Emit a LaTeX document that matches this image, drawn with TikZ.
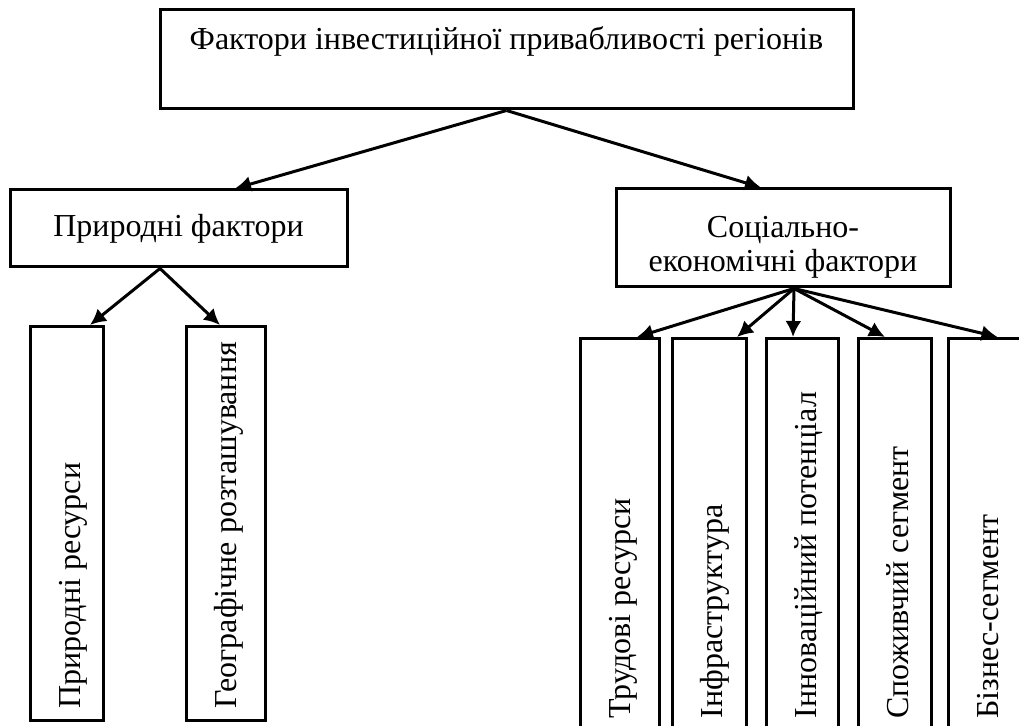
\documentclass[tikz,border=0pt]{standalone}
\usepackage{fontspec}
\setmainfont{Liberation Serif}
\usepackage{tikz}
\usetikzlibrary{positioning}
\usetikzlibrary{calc,arrows.meta}
\tikzset{
  fct/.style = {rectangle, draw=black, inner sep=0pt, line width=1.5pt,
    font=\fontsize{16}{17}\selectfont},
  fct_t/.style = {fct, minimum width=346.5pt,
    text height=20pt, text depth=29.5pt},% titre, texte en haut
  fct_m/.style = {fct, align=center},% facteurs du second niveau
  fct_v/.style = {fct, anchor=north},% boites verticales
  fct_l/.style = {rotate=90, anchor=base west, inner sep=0pt,
    font=\fontsize{16}{17}\selectfont}% texte vertical
}

\begin{document}
\begin{tikzpicture}[x=0.5pt, y=-0.5pt, line width=1.5pt,
  >={Latex[length=8pt,width=8pt]}]
\useasboundingbox (0,0) rectangle (1019,726);
\clip (0,0) rectangle (1019,726);

\node [fct_t] (top) at (506.5,59.5) {Фактори інвестиційної привабливості регіонів};

\node [fct_m, minimum width=168.5pt, minimum height=38.5pt] (nat) at (178.5,228.5)
  {Природні фактори};
\node [fct_m, minimum width=167pt, minimum height=49pt] (soc) at (783,238)
  {\rule{0pt}{20pt}Соціально-\\економічні фактори};

\node [fct_v, minimum width=36.5pt, minimum height=197pt] (nat1) at (66.5,325) {};
\node [fct_v, minimum width=39.5pt, minimum height=197pt] (nat2) at (225.5,325) {};
\node [fct_v, minimum width=39.5pt, minimum height=196pt] (soc1) at (619.5,337) {};
\node [fct_v, minimum width=37pt, minimum height=196pt] (soc2) at (709,337) {};
\node [fct_v, minimum width=36pt, minimum height=196pt] (soc3) at (802,337) {};
\node [fct_v, minimum width=36.5pt, minimum height=196pt] (soc4) at (894.5,337) {};
\node [fct_v, minimum width=39pt, minimum height=196pt] (soc5) at (987,337) {};

\node [fct_l] (nat1t) at ($(nat1.south west)+(52,-12)$) {Природні ресурси};
\node [fct_l] (nat2t) at ($(nat2.south west)+(52,-12)$) {Географічне розташування};
\node [fct_l] (soc1t) at ($(soc1.south west)+(52,-12)$) {Трудові ресурси};
\node [fct_l] (soc2t) at ($(soc2.south west)+(52,-12)$) {Інфраструктура};
\node [fct_l] (soc3t) at ($(soc3.south west)+(52,-12)$) {Інноваційний потенціал};
\node [fct_l] (soc4t) at ($(soc4.south west)+(52,-12)$) {Споживчий сегмент};
\node [fct_l] (soc5t) at ($(soc5.south west)+(52,-12)$) {Бізнес-сегмент};

\draw [->] (top.south) -- ($(nat.north)+(56.5,0)$);
\draw [->] (top.south) -- ($(soc.north)+(-22,0)$);
\draw [->] ($(nat.south)+(-18.5,0)$) -- ($(nat1.north)+(23.5,0)$);
\draw [->] ($(nat.south)+(-18.5,0)$) -- ($(nat2.north)+(-5.5,0)$);
\foreach \n/\dx in {1/17.5,2/28,3/-9,4/-9.5,5/10.5}
  \draw [->] ($(soc.south)+(11,0)$) -- ($(soc\n.north)+(\dx,0)$);
\end{tikzpicture}
\end{document}
